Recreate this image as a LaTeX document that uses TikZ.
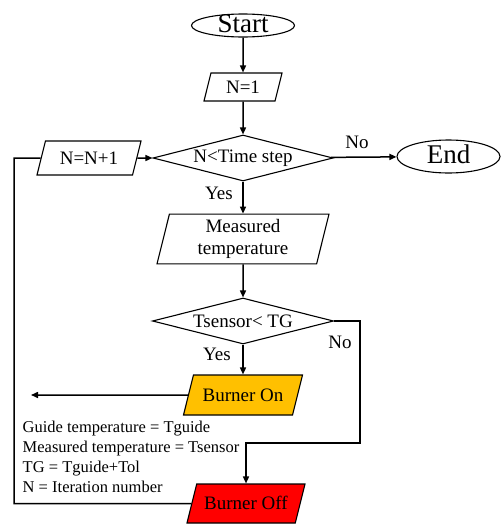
\documentclass[tikz,border=0pt]{standalone}
\usepackage{fontspec}
\setmainfont{Liberation Serif}
\usetikzlibrary{shapes.geometric,arrows.meta}
\definecolor{burneron}{HTML}{FFC000}
\definecolor{burneroff}{HTML}{FF0000}
\begin{document}
\begin{tikzpicture}[
		x=1pt, y=-1pt,
		terminal/.style={ellipse, draw, line width=1.1pt, inner sep=0pt, text height=14pt, text depth=0pt, font=\fontsize{27}{30}\selectfont},
		io/.style={trapezium, trapezium left angle=76, trapezium right angle=104, trapezium stretches body, draw, line width=1.1pt, inner xsep=0pt, text height=12.6pt, text depth=0pt, font=\fontsize{19}{22.5}\selectfont},
		decision/.style={diamond, draw, line width=1.1pt, aspect=3.9, inner sep=0pt, font=\fontsize{19}{22}\selectfont},
		flow/.style={-{Triangle[length=7pt,width=6pt]}, line width=1.5pt},
		lbl/.style={inner sep=0pt, font=\fontsize{19}{22}\selectfont}
	]
	\useasboundingbox (0,0) rectangle (503,525);

	\node[terminal, minimum width=103pt, minimum height=23pt] (start) at (243,25.5) {Start};
	\node[io, inner ysep=7.7pt, minimum width=78pt] (n1) at (243,87) {N=1};
	\node[decision, minimum width=180pt, minimum height=46pt] (tstep) at (243,158) {N<Time step};
	\node[io, inner ysep=10.7pt, minimum width=104pt] (inc) at (89,158) {N=N+1};
	\node[terminal, minimum width=103pt, minimum height=33pt] (end) at (448.5,156.5) {End};
	\node[io, text height=, text depth=, inner ysep=5pt, minimum width=172pt, align=center] (meas) at (243,239) {Measured\\temperature};
	\node[decision, minimum width=181pt, minimum height=46pt] (tcheck) at (243,321) {Tsensor< TG};
	\node[io, fill=burneron, inner ysep=13.7pt, minimum width=119pt] (on) at (243,395) {Burner On};
	\node[io, fill=burneroff, inner ysep=13.2pt, minimum width=118pt] (off) at (246,503.5) {Burner Off};

	\node[anchor=north west, align=left, inner sep=0pt, font=\fontsize{16.5}{20}\selectfont] (legend) at (22.5,421) {Guide temperature = Tguide\\Measured temperature = Tsensor\\TG = Tguide+Tol\\N = Iteration number};

	\node[lbl] (no1) at (357,142) {No};
	\node[lbl] (yes1) at (219,193) {Yes};
	\node[lbl] (no2) at (340,342) {No};
	\node[lbl] (yes2) at (217,354) {Yes};

	\coordinate (ontip) at (31,395);
	\coordinate (noturn) at (360,443);
	\coordinate (loopturn) at (14,158);

	\draw[flow] (start) -- (n1);
	\draw[flow] (n1) -- (tstep);
	\draw[flow] (inc) -- (tstep);
	\draw[flow] (tstep) -- (end);
	\draw[flow] (tstep) -- (meas);
	\draw[flow] (meas) -- (tcheck);
	\draw[flow] (tcheck) -- (on);
	\draw[flow] (on.west) -- (ontip);
	\draw[flow] (tcheck.east) -| (noturn) -| (off.north);
	\draw[line width=1.5pt] (off.west) -| (loopturn) -- (inc.west);
\end{tikzpicture}
\end{document}
